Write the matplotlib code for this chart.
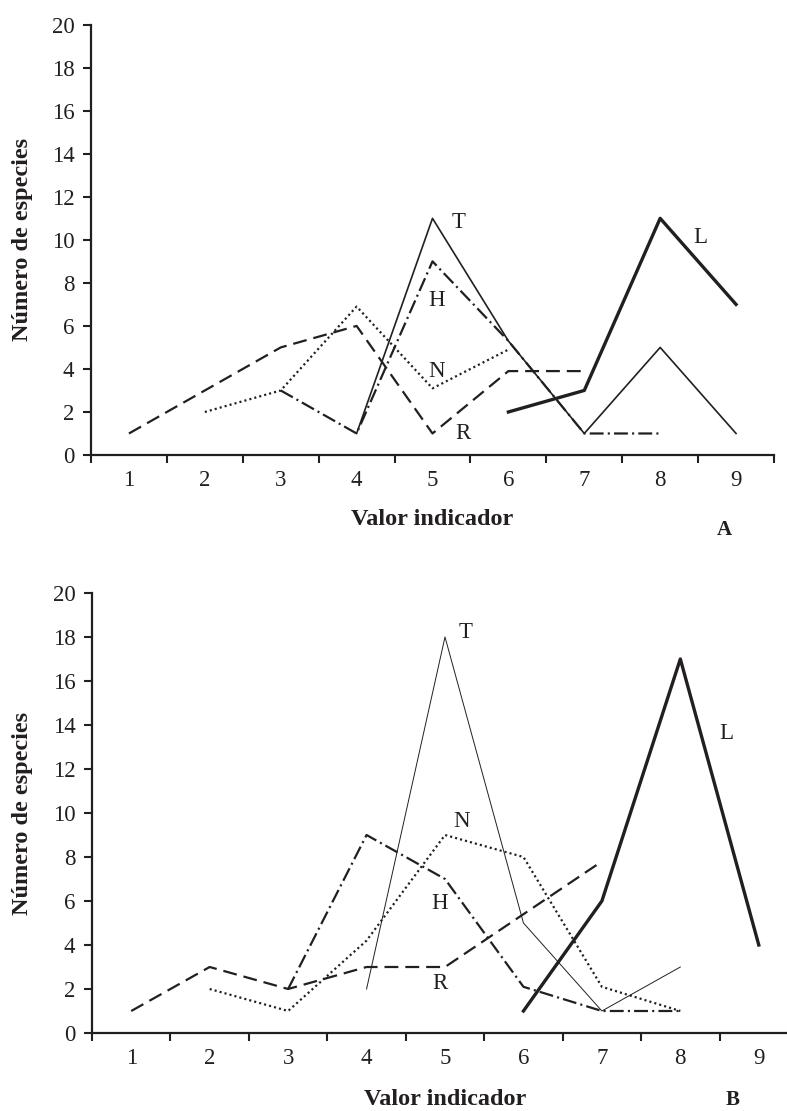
import numpy as np
import matplotlib
matplotlib.use('Agg')
import matplotlib.pyplot as plt

plt.rcParams['font.family'] = ['Liberation Serif', 'DejaVu Serif']
plt.rcParams['lines.scale_dashes'] = False

nan = np.nan

# valores indicadores 1..9
cats = [1, 2, 3, 4, 5, 6, 7, 8, 9]
cat_labels = ['1', '2', '3', '4', '5', '6', '7', '8', '9']

# panel A
R_a = [1, 3, 5, 6, 1, 3.9, 3.9, nan, nan]
N_a = [nan, 2, 3, 6.9, 3.1, 4.9, nan, nan, nan]
H_a = [nan, nan, 3, 1, 9, 5.3, 1, 1, nan]
T_a = [nan, nan, nan, 1, 11, 5.3, 1, 5, 1]
L_a = [nan, nan, nan, nan, nan, 2, 3, 11, 7]

# panel B
R_b = [1, 3, 2, 3, 3, 5.4, 7.8, nan, nan]
N_b = [nan, 2, 1, 4.2, 9, 8, 2.1, 1, nan]
H_b = [nan, nan, 2, 9, 7, 2.1, 1, 1, nan]
T_b = [nan, nan, nan, 2, 18, 5, 1, 3, nan]
L_b = [nan, nan, nan, nan, nan, 1, 6, 17, 4]

W, H = 787, 1111
fig = plt.figure(figsize=(W / 100, H / 100), dpi=100)

axA = fig.add_axes([91 / W, (H - 455) / H, (774 - 91) / W, (455 - 24.7) / H])
axB = fig.add_axes([92 / W, (H - 1033) / H, (798 - 92) / W, (1033 - 593) / H])

k = '#231f20'


def style_axis(ax, xl_y, yl_x):
    ax.set_xlim(0.5, 9.5)
    ax.set_ylim(0, 20)
    for s in ['top', 'right']:
        ax.spines[s].set_visible(False)
    for s in ['left', 'bottom']:
        ax.spines[s].set_linewidth(1.6)
        ax.spines[s].set_color(k)
    ax.set_yticks(range(0, 21, 2))
    ax.set_xticks(np.arange(0.5, 10, 1))
    ax.set_xticklabels([])
    ax.set_xticks(cats, cat_labels, minor=True)
    ax.tick_params(axis='x', which='major', length=6, width=1.5, color=k)
    ax.tick_params(axis='x', which='minor', length=0, pad=11, labelsize=16.5,
                   labelcolor=k)
    ax.tick_params(axis='y', length=6, width=1.5, pad=6, labelsize=16.5,
                   color=k, labelcolor=k)
    ax.text(0.5, xl_y, 'Valor indicador', transform=ax.transAxes, ha='center',
            va='center', fontsize=17.5, fontweight='bold', color=k)
    ax.text(yl_x, 0.5, 'Número de especies', transform=ax.transAxes,
            rotation=90, ha='center', va='center', fontsize=17.5,
            fontweight='bold', color=k)


def draw_lines(ax, R, N, Hh, T, L, t_lw):
    ax.plot(cats, R, color=k, lw=1.6, dashes=(10, 5))
    ax.plot(cats, N, color=k, lw=1.6, dashes=(1.5, 2.2))
    ax.plot(cats, Hh, color=k, lw=1.6, dashes=(10, 3, 1.5, 3))
    ax.plot(cats, T, color=k, lw=t_lw)
    ax.plot(cats, L, color=k, lw=2.4)


style_axis(axA, -0.151, -0.101)
style_axis(axB, -0.152, -0.099)
draw_lines(axA, R_a, N_a, H_a, T_a, L_a, 1.2)
draw_lines(axB, R_b, N_b, H_b, T_b, L_b, 0.7)

lab = dict(fontsize=16.5, color=k, ha='center', va='center')
axA.text(5.34, 10.8, 'T', **lab)
axA.text(5.05, 7.2, 'H', **lab)
axA.text(5.06, 3.9, 'N', **lab)
axA.text(5.40, 1.0, 'R', **lab)
axA.text(8.53, 10.1, 'L', **lab)

axB.text(5.26, 18.2, 'T', **lab)
axB.text(5.21, 9.6, 'N', **lab)
axB.text(4.93, 5.9, 'H', **lab)
axB.text(4.93, 2.26, 'R', **lab)
axB.text(8.59, 13.6, 'L', **lab)

axA.text(0.928, -0.174, 'A', transform=axA.transAxes, ha='center', va='center',
         fontsize=15, fontweight='bold', color=k)
axB.text(0.907, -0.152, 'B', transform=axB.transAxes, ha='center', va='center',
         fontsize=15, fontweight='bold', color=k)

fig.savefig('out.png', dpi=100)
